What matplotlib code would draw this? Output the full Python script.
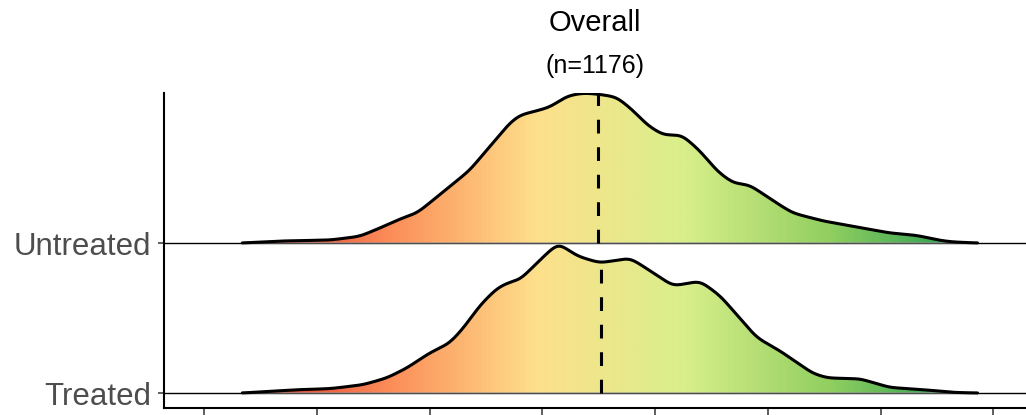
"""
Ridgeline density chart, Untreated vs Treated, gradient fill along x.
"""

import matplotlib
matplotlib.use("Agg")
import matplotlib.pyplot as plt
import numpy as np
from matplotlib.colors import LinearSegmentedColormap, Normalize
from matplotlib.patches import Polygon

plt.rcParams["font.family"] = ["Liberation Sans", "DejaVu Sans"]

# --- data (x in axis units, density scaled so peak ~ 1) ---
groups = ["Treated", "Untreated"]

untreated_x = [0.34, 0.67, 1.12, 1.38, 1.56, 1.76, 1.89, 2.00, 2.12, 2.36, 2.47,
               2.60, 2.71, 2.80, 2.98, 3.07, 3.22, 3.36, 3.49, 3.66, 3.80, 3.93,
               4.07, 4.24, 4.40, 4.55, 4.69, 4.84, 5.05, 5.22, 5.49, 5.79, 6.08,
               6.32, 6.53, 6.64, 6.86]
untreated_d = [0.00, 0.013, 0.02, 0.044, 0.10, 0.167, 0.20, 0.267, 0.34, 0.487, 0.587,
               0.70, 0.80, 0.853, 0.887, 0.907, 0.98, 1.00, 0.993, 0.973, 0.887, 0.787,
               0.72, 0.72, 0.613, 0.48, 0.40, 0.387, 0.28, 0.20, 0.147, 0.107, 0.067,
               0.051, 0.017, 0.007, 0.00]

treated_x = [0.34, 0.83, 1.12, 1.41, 1.62, 1.80, 2.00, 2.18, 2.30, 2.45, 2.60,
             2.71, 2.80, 2.98, 3.14, 3.31, 3.51, 3.78, 3.96, 4.16, 4.40, 4.58,
             4.75, 4.90, 5.11, 5.40, 5.53, 5.82, 6.08, 6.38, 6.64, 6.86]
treated_d = [0.00, 0.022, 0.029, 0.055, 0.10, 0.167, 0.267, 0.333, 0.433, 0.587, 0.70,
             0.74, 0.753, 0.887, 1.00, 0.913, 0.867, 0.90, 0.813, 0.713, 0.747, 0.647,
             0.50, 0.37, 0.28, 0.13, 0.10, 0.095, 0.037, 0.022, 0.004, 0.00]

medians = {"Untreated": 3.49, "Treated": 3.52}

title = "Overall"
subtitle = "(n=1176)"
x_ticks = [0, 1, 2, 3, 4, 5, 6, 7]

series = {"Treated": (treated_x, treated_d), "Untreated": (untreated_x, untreated_d)}

# colour ramp (RdYlGn, 6 classes) spread over the data range
ramp = LinearSegmentedColormap.from_list(
    "ramp", ["#d73027", "#fc8d59", "#fee08b", "#d9ef8b", "#91cf60", "#1a9850"])
norm = Normalize(vmin=0.34, vmax=6.86)


def smooth_curve(xp, yp, step=0.005, sigma=0.045):
    xs = np.arange(xp[0], xp[-1] + step, step)
    ys = np.interp(xs, xp, yp)
    half = int(4 * sigma / step)
    k = np.exp(-0.5 * (np.arange(-half, half + 1) * step / sigma) ** 2)
    k /= k.sum()
    ys = np.convolve(np.pad(ys, half), k, mode="valid")
    return xs, ys


fig = plt.figure(figsize=(10.26, 4.15), dpi=100)
ax = fig.add_axes([164 / 1026, 7 / 415, 862 / 1026, 315 / 415])
ax.set_xlim(-0.355, 7.29)
ax.set_ylim(-0.1, 2.0)

for row, name in enumerate(groups):
    xp, yp = series[name]
    xs, ys = smooth_curve(xp, yp)

    ax.axhline(row, color="black", lw=1.0, zorder=1)

    verts = np.column_stack([np.r_[xs, xs[::-1]], np.r_[row + ys, np.full(len(xs), row)]])
    poly = Polygon(verts, closed=True, facecolor="none", edgecolor="none")
    ax.add_patch(poly)
    grad = np.linspace(xs[0], xs[-1], 600)[None, :]
    im = ax.imshow(grad, cmap=ramp, norm=norm, aspect="auto", interpolation="bilinear",
                   extent=[xs[0], xs[-1], row, row + ys.max() + 0.01],
                   origin="lower", zorder=2 + row * 0.1)
    im.set_clip_path(poly)

    ax.plot(xs, row + np.zeros_like(xs), color="#8c8c8c", lw=0.8, zorder=2.05 + row * 0.1)
    ax.plot(xs, row + ys, color="black", lw=2.2, zorder=3, solid_capstyle="round")

    m = medians[name]
    hm = np.interp(m, xs, ys)
    ax.plot([m, m], [row, row + hm], color="black", lw=2.2,
            linestyle=(0, (4.5, 4.5)), zorder=4)

ax.set_yticks(range(len(groups)))
ax.set_yticklabels(groups, fontsize=22.5, color="#4d4d4d")
ax.set_xticks(x_ticks)
ax.set_xticklabels([])
ax.tick_params(axis="y", length=4, width=1.1, color="#333333", pad=5)
ax.tick_params(axis="x", length=8, width=1.1, color="#333333")

for side in ("top", "right"):
    ax.spines[side].set_visible(False)
for side in ("left", "bottom"):
    ax.spines[side].set_linewidth(1.5)
    ax.spines[side].set_color("black")

fig.text(595 / 1026, 1 - 23 / 415, title, ha="center", va="center", fontsize=21)
fig.text(595 / 1026, 1 - 66 / 415, subtitle, ha="center", va="center", fontsize=18)

fig.savefig("out.png", dpi=100)
plt.close(fig)
